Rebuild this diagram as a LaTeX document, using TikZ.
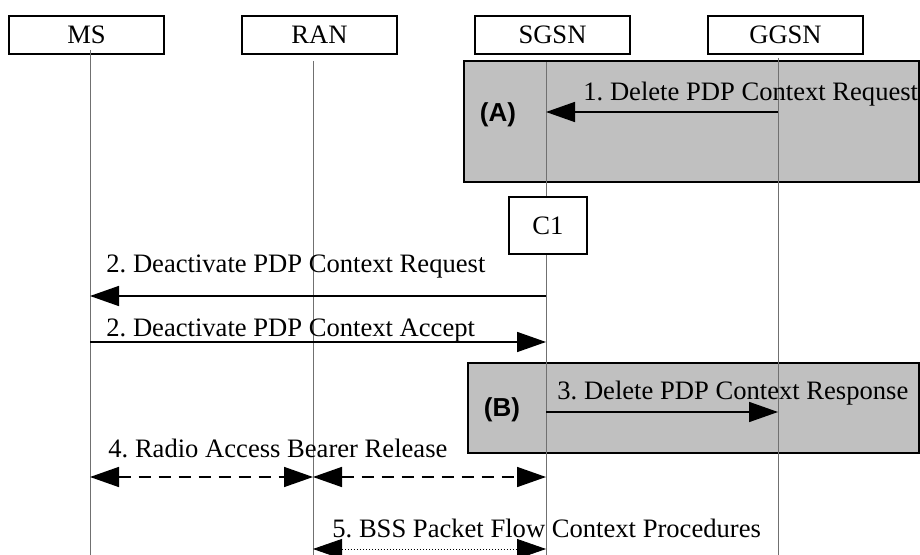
\documentclass[tikz,border=0pt]{standalone}
\usepackage{fontspec}
\setmainfont{Liberation Serif}
\newfontfamily\tagfont{Liberation Sans}
\usetikzlibrary{arrows.meta,positioning}
\definecolor{lifegray}{HTML}{707070}
\definecolor{zonegray}{HTML}{C0C0C0}
\frenchspacing

\begin{document}
\begin{tikzpicture}[
      x=0.5pt, y=-0.5pt,
      node distance=38pt,
      font=\fontsize{13.3}{16}\selectfont,
      entity/.style={
        draw, line width=1pt, fill=white, inner sep=0pt,
        minimum width=77.5pt, minimum height=19pt
      },
      zone/.style={draw, line width=0.8pt, fill=zonegray, inner sep=0pt},
      zonetag/.style={font=\fontsize{13}{15.6}\selectfont\tagfont\bfseries, inner sep=0pt},
      msgtext/.style={anchor=base west, inner sep=0pt},
      lifeline/.style={draw=lifegray, line width=0.5pt},
      msg/.style={line width=0.8pt, -{Triangle[length=14.5pt, width=10pt]}},
      twoway/.style={line width=0.8pt, {Triangle[length=14.5pt, width=10pt]}-{Triangle[length=14.5pt, width=10pt]}}
    ]
    \useasboundingbox (0,0) rectangle (920,555);

    % shaded zones
    \node[zone, minimum width=227.5pt, minimum height=60.5pt] (zoneA) at (691.5,121.5) {};
    \node[zone, minimum width=225.5pt, minimum height=45pt] (zoneB) at (693.5,408) {};

    % entities
    \node[entity] (ms) at (86.5,35) {MS};
    \node[entity, right=of ms] (ran) {RAN};
    \node[entity, right=of ran] (sgsn) {SGSN};
    \node[entity, right=of sgsn] (ggsn) {GGSN};

    % lifelines
    \coordinate (msTop) at (90,50);
    \coordinate (ranTop) at (313,61);
    \coordinate (sgsnTop) at (546,62);
    \coordinate (ggsnTop) at (778,58);
    \coordinate (bottom) at (0,555);
    \draw[lifeline] (msTop) -- (msTop |- bottom);
    \draw[lifeline] (ranTop) -- (ranTop |- bottom);
    \draw[lifeline] (sgsnTop) -- (sgsnTop |- bottom);
    \draw[lifeline] (ggsnTop) -- (ggsnTop |- bottom);

    \node[entity, minimum width=39pt, minimum height=28.5pt] (c1) at (548,225.5) {C1};

    % message levels
    \coordinate (y1) at (0,112);
    \coordinate (y2a) at (0,296);
    \coordinate (y2b) at (0,342);
    \coordinate (y3) at (0,412);
    \coordinate (y4) at (0,477);
    \coordinate (y5) at (0,549);

    \node[zonetag] (tagA) at (498,115) {(A)};
    \node[zonetag] (tagB) at (502,410) {(B)};

    \draw[msg] (ggsnTop |- y1) -- (sgsnTop |- y1);
    \draw[msg] (sgsnTop |- y2a) -- (msTop |- y2a);
    \draw[msg] (msTop |- y2b) -- (sgsnTop |- y2b);
    \draw[msg] (sgsnTop |- y3) -- (ggsnTop |- y3);
    \draw[twoway, dash pattern=on 6pt off 4pt] (msTop |- y4) -- (ranTop |- y4);
    \draw[twoway, dash pattern=on 6pt off 4pt] (ranTop |- y4) -- (sgsnTop |- y4);
    \draw[twoway, line width=0.4pt, dash pattern=on 0.5pt off 1pt] (ranTop |- y5) -- (sgsnTop |- y5);

    \node[msgtext] (t1) at (583,101) {1. Delete PDP Context Request};
    \node[msgtext] (t2a) at (106,273) {2. Deactivate PDP Context Request};
    \node[msgtext] (t2b) at (106,336) {2. Deactivate PDP Context Accept};
    \node[msgtext] (t3) at (557,400) {3. Delete PDP Context Response};
    \node[msgtext] (t4) at (108,457) {4. Radio Access Bearer Release};
    \node[msgtext] (t5) at (332,537) {5. BSS Packet Flow Context Procedures};
  \end{tikzpicture}
\end{document}
